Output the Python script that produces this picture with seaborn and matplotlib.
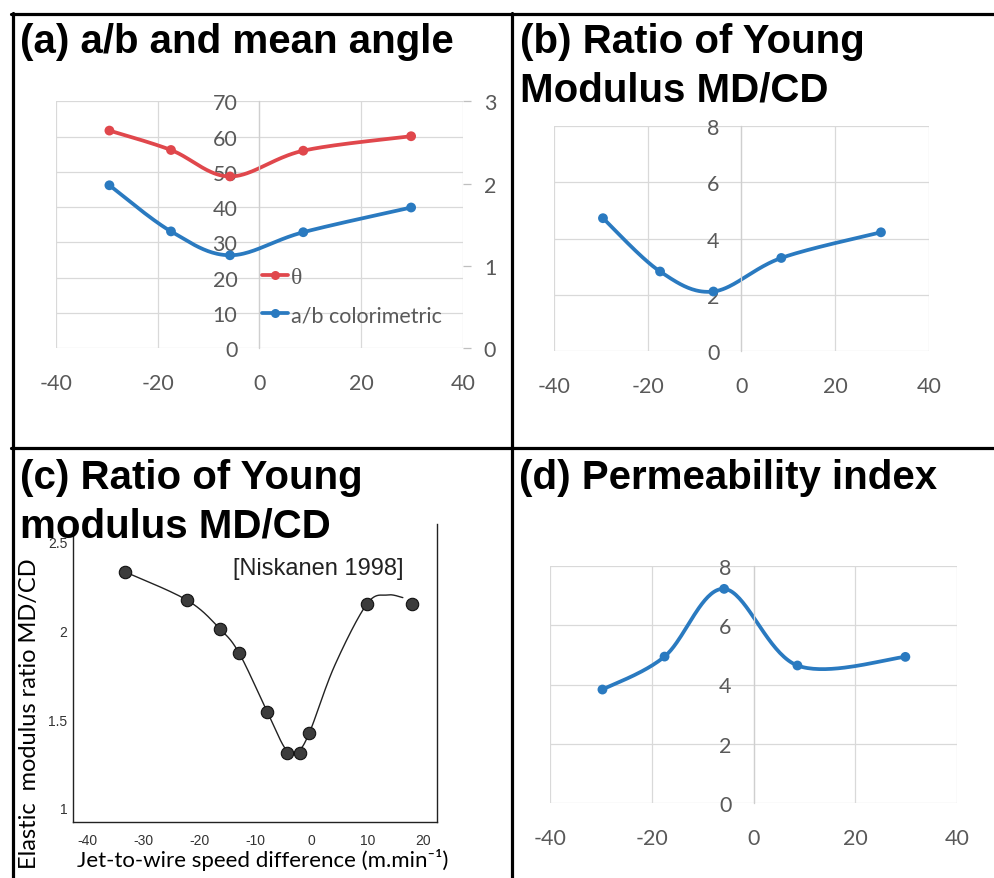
import numpy as np
import matplotlib
matplotlib.use("Agg")
import matplotlib.pyplot as plt
import seaborn as sns
from matplotlib.lines import Line2D

# ---------------- data ----------------
a_x = [-29.5, -17.4, -5.8, 8.6, 29.8]
a_theta = [61.7, 56.2, 48.7, 56.0, 60.1]
a_ab = [1.98, 1.42, 1.13, 1.41, 1.71]
a_xticks = [-40, -20, 0, 20, 40]
a_yticks = [0, 10, 20, 30, 40, 50, 60, 70]
a_y2ticks = [0, 1, 2, 3]

b_x = [-29.6, -17.4, -6.0, 8.5, 29.8]
b_ratio = [4.72, 2.83, 2.12, 3.31, 4.22]
b_yticks = [0, 2, 4, 6, 8]

c_x = [-33.3, -22.2, -16.4, -12.9, -7.9, -4.3, -2.1, -0.5, 9.9, 17.9]
c_ratio = [2.33, 2.17, 2.01, 1.87, 1.54, 1.31, 1.31, 1.42, 2.15, 2.15]
c_fit_x = [-33.3, -22.2, -16.4, -12.9, -7.9, -4.6, -2.4, -0.3, 4.1, 9.9, 13.5, 16.3]
c_fit_y = [2.33, 2.17, 2.01, 1.87, 1.54, 1.33, 1.32, 1.43, 1.80, 2.15, 2.20, 2.185]
c_xticks = [-40, -30, -20, -10, 0, 10, 20]
c_yticks = [1, 1.5, 2, 2.5]
c_yticklabels = ["1", "1.5", "2", "2.5"]

d_x = [-29.7, -17.5, -5.8, 8.6, 29.8]
d_perm = [3.83, 4.94, 7.22, 4.64, 4.93]
d_yticks = [0, 2, 4, 6, 8]

titles = {
    "a": ["(a) a/b and mean angle"],
    "b": ["(b) Ratio of Young", "Modulus MD/CD"],
    "c": ["(c) Ratio of Young", "modulus MD/CD"],
    "d": ["(d) Permeability index"],
}

RED = "#E0474C"
BLUE = "#2A7AC0"
GRID = "#D9D9D9"
TXT = "#595959"
XL_FONT = ["Lato", "DejaVu Sans"]

sns.set_style("white")
plt.rcParams["font.family"] = XL_FONT
plt.rcParams["axes.unicode_minus"] = False

W, H = 995, 879
fig = plt.figure(figsize=(W / 100, H / 100), dpi=100)


def px_axes(x0, y0, x1, y1):
    return fig.add_axes([x0 / W, 1 - y1 / H, (x1 - x0) / W, (y1 - y0) / H])


def smooth(x, y, n=40):
    P = np.column_stack([x, y]).astype(float)
    E = np.vstack([P[0], P, P[-1]])
    out = []
    t = np.linspace(0, 1, n)[:, None]
    for i in range(len(P) - 1):
        p0, p1, p2, p3 = E[i], E[i + 1], E[i + 2], E[i + 3]
        c1 = p1 + (p2 - p0) / 6
        c2 = p2 - (p3 - p1) / 6
        seg = (1 - t) ** 3 * p1 + 3 * (1 - t) ** 2 * t * c1 + 3 * (1 - t) * t ** 2 * c2 + t ** 3 * p2
        out.append(seg if i == 0 else seg[1:])
    S = np.vstack(out)
    return S[:, 0], S[:, 1]


def excel_axes(ax, xticks, yticks, ylim):
    ax.set_xlim(-40, 40)
    ax.set_ylim(*ylim)
    ax.set_xticks(xticks)
    ax.set_yticks(yticks)
    ax.grid(True, color=GRID, lw=0.9)
    ax.set_axisbelow(True)
    for s in ["top", "right", "bottom"]:
        ax.spines[s].set_visible(False)
    ax.spines["left"].set_position(("data", 0))
    ax.spines["left"].set_color("#CFCFCF")
    ax.spines["left"].set_linewidth(0.9)
    ax.tick_params(axis="y", length=0, pad=16, labelcolor=TXT, labelsize=15.5)
    ax.tick_params(axis="x", length=0, pad=18, labelcolor=TXT, labelsize=15.5)
    ax.set_xlabel("")
    ax.set_ylabel("")


def smooth_series(ax, x, y, color):
    sx, sy = smooth(x, y)
    sns.lineplot(x=sx, y=sy, sort=False, estimator=None, ax=ax, color=color, lw=2.7)
    sns.scatterplot(x=x, y=y, ax=ax, color=color, s=50, edgecolor="none", zorder=5)
    ax.set_xlabel("")
    ax.set_ylabel("")


# ---------------- panel (a) ----------------
ax_a = px_axes(56, 102.3, 463, 349.3)
smooth_series(ax_a, a_x, a_theta, RED)
excel_axes(ax_a, a_xticks, a_yticks, (0, 70))
ax_a2 = ax_a.twinx()
smooth_series(ax_a2, a_x, a_ab, BLUE)
ax_a2.set_ylim(0, 3)
ax_a2.set_yticks(a_y2ticks)
for s in ax_a2.spines.values():
    s.set_visible(False)
ax_a2.grid(False)
ax_a2.tick_params(axis="y", length=6, width=0.9, color="#BFBFBF", pad=9,
                  labelcolor=TXT, labelsize=15.5)
handles = [
    Line2D([], [], color=RED, lw=2.7, marker="o", ms=6.5, mec="none"),
    Line2D([], [], color=BLUE, lw=2.7, marker="o", ms=6.5, mec="none"),
]
leg = ax_a2.legend(handles, ["θ", "a/b colorimetric"], loc="upper left",
                   bbox_to_anchor=(0.505, 0.33), frameon=False, fontsize=15.5,
                   handlelength=1.25, handletextpad=0.1, labelspacing=0.8,
                   borderpad=0, borderaxespad=0)
for t in leg.get_texts():
    t.set_color(TXT)
leg.get_texts()[0].set_family(["Liberation Serif", "DejaVu Serif"])
leg.get_texts()[0].set_fontsize(17)

# ---------------- panel (b) ----------------
ax_b = px_axes(554.3, 126.7, 928.7, 352.3)
smooth_series(ax_b, b_x, b_ratio, BLUE)
excel_axes(ax_b, a_xticks, b_yticks, (0, 8))

# ---------------- panel (d) ----------------
ax_d = px_axes(550, 566.7, 957.3, 804.3)
smooth_series(ax_d, d_x, d_perm, BLUE)
excel_axes(ax_d, a_xticks, d_yticks, (0, 8))

# ---------------- panel (c) ----------------
ax_c = px_axes(73, 525, 437, 823)
fx, fy = smooth(c_fit_x, c_fit_y)
sns.lineplot(x=fx, y=fy, sort=False, estimator=None, ax=ax_c, color="#222222", lw=1.0)
sns.scatterplot(x=c_x, y=c_ratio, ax=ax_c, color="#3C3C3C", s=80,
                edgecolor="#111111", linewidth=0.8, zorder=5)
ax_c.set_xlim(-42.6, 22.4)
ax_c.set_ylim(0.92, 2.6)
ax_c.set_xticks(c_xticks)
ax_c.set_yticks(c_yticks)
ax_c.set_yticklabels(c_yticklabels)
ax_c.spines["top"].set_visible(False)
for s in ["left", "bottom", "right"]:
    ax_c.spines[s].set_color("#222222")
    ax_c.spines[s].set_linewidth(1.0)
ax_c.tick_params(direction="in", length=6, width=0.9, color="#222222",
                 labelsize=10, labelcolor="#333333")
ax_c.tick_params(axis="x", pad=8)
ax_c.tick_params(axis="y", pad=4)
for lab in ax_c.get_xticklabels() + ax_c.get_yticklabels():
    lab.set_family(["Liberation Sans", "DejaVu Sans"])
ax_c.set_xlabel("")
ax_c.set_ylabel("")
ax_c.text(-14.0, 2.35, "[Niskanen 1998]", fontsize=17, color="#222222",
          family=["Liberation Sans", "DejaVu Sans"], va="center", ha="left")
fig.text(30 / W, 1 - 714 / H, "Elastic  modulus ratio MD/CD", rotation=90,
         fontsize=17, color="black", ha="center", va="center", family=XL_FONT)
fig.text(263 / W, 1 - 860 / H, "Jet-to-wire speed difference (m.min⁻¹)",
         fontsize=16, color="black", ha="center", va="center", family=XL_FONT)

# ---------------- titles ----------------
TFONT = dict(fontsize=29, fontweight="bold", color="black",
             family=["Liberation Sans", "DejaVu Sans"], va="baseline", ha="left")
fig.text(20 / W, 1 - 53 / H, titles["a"][0], **TFONT)
fig.text(520 / W, 1 - 53 / H, titles["b"][0], **TFONT)
fig.text(520 / W, 1 - 101 / H, titles["b"][1], **TFONT)
fig.text(20 / W, 1 - 489 / H, titles["c"][0], **TFONT)
fig.text(20 / W, 1 - 537 / H, titles["c"][1], **TFONT)
fig.text(519 / W, 1 - 489 / H, titles["d"][0], **TFONT)

# ---------------- panel borders ----------------
def hline(y, x0, x1):
    fig.add_artist(Line2D([x0 / W, x1 / W], [1 - y / H, 1 - y / H],
                          transform=fig.transFigure, color="black", lw=2.3))


def vline(x, y0, y1):
    fig.add_artist(Line2D([x / W, x / W], [1 - y0 / H, 1 - y1 / H],
                          transform=fig.transFigure, color="black", lw=2.3))


hline(15, 11, 995)
hline(449, 11, 995)
vline(12.5, 14, 879)
vline(511.5, 14, 879)

fig.savefig("out.png", dpi=100)
